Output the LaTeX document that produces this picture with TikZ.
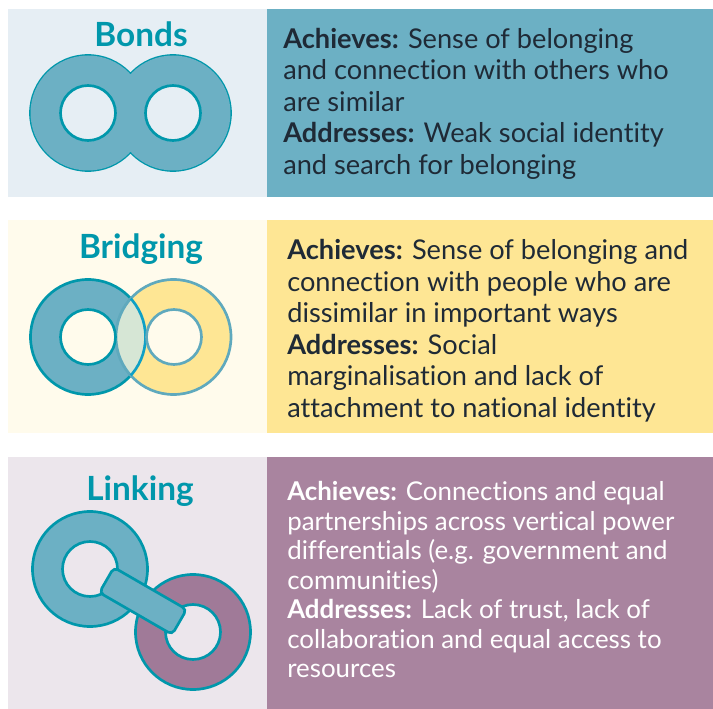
\documentclass[tikz,border=0pt]{standalone}
\usepackage{fontspec}
\setmainfont{Lato}[Ligatures=NoCommon]
\definecolor{ringedge}{HTML}{0097AB}
\definecolor{ringfill}{HTML}{6CB0C4}
\definecolor{bluepale}{HTML}{E6EEF4}
\definecolor{yellowpale}{HTML}{FFFBEC}
\definecolor{yellowpanel}{HTML}{FEE694}
\definecolor{yellowedge}{HTML}{5FA9BD}
\definecolor{lens}{HTML}{D6E6D5}
\definecolor{lensedge}{HTML}{0FA0C5}
\definecolor{purplepale}{HTML}{ECE6EC}
\definecolor{purplepanel}{HTML}{A9849F}
\definecolor{purplering}{HTML}{A07A98}
\definecolor{inkdark}{HTML}{1F2A36}
\tikzset{
  x=0.75pt,y=-0.75pt,
  ringline/.style={line width=2pt},
  heading/.style={font=\fontsize{25}{28}\selectfont\bfseries,text=ringedge,anchor=base,inner sep=0pt},
  bodyA/.style={font=\fontsize{20.4}{23.6}\selectfont,text=inkdark,anchor=north west,align=left,inner sep=0pt},
  bodyB/.style={font=\fontsize{19.4}{22.1}\selectfont,text=white,anchor=north west,align=left,inner sep=0pt},
}
\begin{document}
\begin{tikzpicture}
\useasboundingbox (0,0) rectangle (713,709);
\fill[white] (0,0) rectangle (713,709);
% panels
\fill[bluepale] (8,9) rectangle (267,197);
\fill[ringfill] (267,9) rectangle (713,197);
\fill[yellowpale] (8,220) rectangle (267,433);
\fill[yellowpanel] (267,220) rectangle (713,433);
\fill[purplepale] (8,457) rectangle (267,709);
\fill[purplepanel] (267,457) rectangle (713,709);
% bonds
\draw[ringline,draw=ringedge] (88,113) circle[radius=57.5] (173,113) circle[radius=57.5];
\fill[ringfill] (88,113) circle[radius=57.5] (173,113) circle[radius=57.5];
\draw[ringline,draw=ringedge,fill=bluepale] (88,113) circle[radius=27.5] (173,113) circle[radius=27.5];
% bridging
\draw[ringline,draw=ringedge,fill=ringfill] (88,337) circle[radius=57.5];
\draw[ringline,draw=yellowedge,fill=yellowpanel] (173.5,337) circle[radius=57.5];
\begin{scope}
\clip (88,337) circle[radius=57.5];
\fill[lens] (173.5,337) circle[radius=57.5];
\draw[ringline,draw=yellowedge] (173.5,337) circle[radius=57.5];
\end{scope}
\begin{scope}
\clip (173.5,337) circle[radius=57.5];
\draw[ringline,draw=lensedge] (88,337) circle[radius=57.5];
\end{scope}
\draw[ringline,draw=ringedge,fill=yellowpale] (88,337) circle[radius=27.5];
\draw[ringline,draw=yellowedge,fill=yellowpale] (174,337) circle[radius=27.5];
% linking
\draw[ringline,draw=ringedge,fill=ringfill,even odd rule] (90,569) circle[radius=57.5] circle[radius=27.5];
\draw[ringline,draw=ringedge,fill=purplering,even odd rule] (193,632) circle[radius=57.5] circle[radius=27.5];
\draw[ringline,draw=ringedge,fill=ringfill,rounded corners=3.5pt,rotate around={-30:(143,601)}]
  (101,586.5) rectangle (185,615.5);
% headings
\node[heading] (h1) at (141,47) {Bonds};
\node[heading] (h2) at (141,258) {Bridging};
\node[heading] (h3) at (140,500) {Linking};
% bodies
\node[bodyA] (t1) at (283,28) {\textbf{Achieves:} Sense of belonging\\and connection with others who\\are similar\\\textbf{Addresses:} Weak social identity\\and search for belonging};
\node[bodyA] (t2) at (287,239.5) {\textbf{Achieves:} Sense of belonging and\\connection with people who are\\dissimilar in important ways\\\textbf{Addresses:} Social\\marginalisation and lack of\\attachment to national identity};
\node[bodyB] (t3) at (287,481.5) {\textbf{Achieves:} Connections and equal\\partnerships across vertical power\\differentials (e.g. government and\\communities)\\\textbf{Addresses:} Lack of trust, lack of\\collaboration and equal access to\\resources};
\end{tikzpicture}
\end{document}
